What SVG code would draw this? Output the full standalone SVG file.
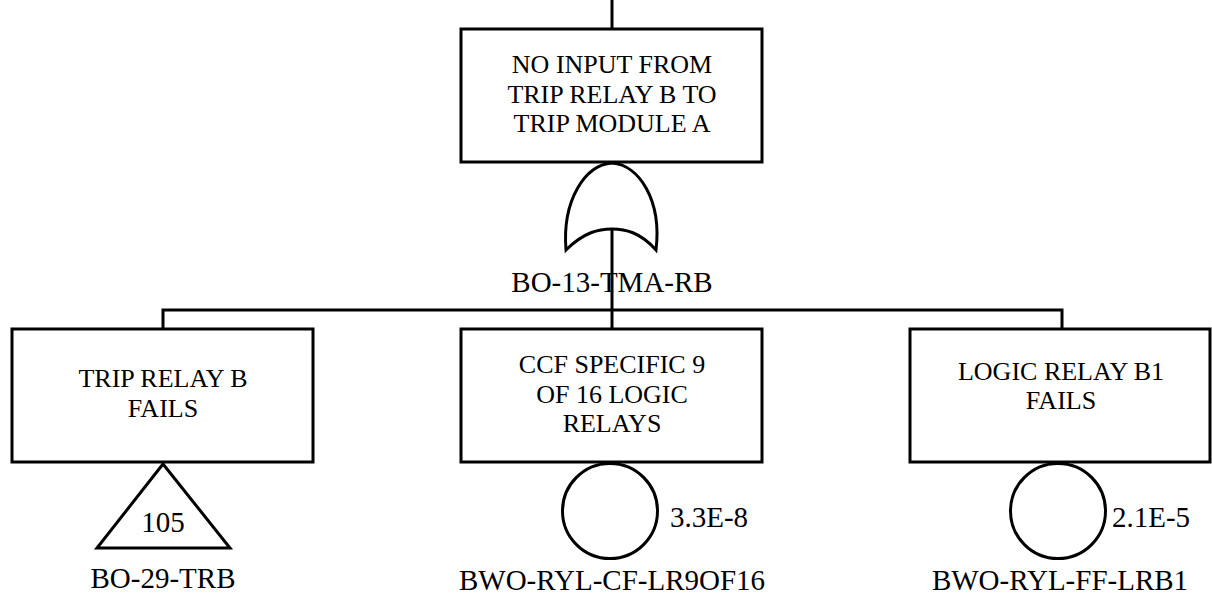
<svg xmlns="http://www.w3.org/2000/svg" width="1212" height="600" viewBox="0 0 1212 600">
<style>
.b{fill:#fff;stroke:#000;stroke-width:3}
.s{fill:none;stroke:#000;stroke-width:3}
text{font-family:'Liberation Serif','DejaVu Serif','Times New Roman',serif;fill:#000}
.t{font-size:26px;text-anchor:middle}
.l{font-size:29px;text-anchor:middle}
.p{font-size:29px;text-anchor:start}
</style>
<rect width="1212" height="600" fill="#fff"/>
<g id="connectors">
<path class="s" d="M612 0V29"/>
<path class="s" d="M612 229V310"/>
<path class="s" d="M163 329V310H1062V329"/>
<path class="s" d="M612 310V329"/>
</g>
<g id="top">
<rect class="b" x="461" y="29" width="301" height="133"/>
<text class="t" x="612" y="73" font-family="Liberation Serif">NO INPUT FROM</text>
<text class="t" x="612" y="103" font-family="Liberation Serif">TRIP RELAY B TO</text>
<text class="t" x="612" y="132" font-family="Liberation Serif">TRIP MODULE A</text>
</g>
<g id="gate">
<path class="s" d="M566 250C562 200 585 165 612 163C639 165 662 200 656 250C640 232 625 229 612 229C599 229 584 232 566 250Z"/>
<text class="l" x="612" y="292">BO-13-TMA-RB</text>
</g>
<g id="n1">
<rect class="b" x="12" y="329" width="301" height="133"/>
<text class="t" x="163" y="387">TRIP RELAY B</text>
<text class="t" x="163" y="417">FAILS</text>
<path class="s" d="M163 464L97 548H230Z"/>
<text class="l" x="163" y="532">105</text>
<text class="l" x="163" y="588">BO-29-TRB</text>
</g>
<g id="n2">
<rect class="b" x="461" y="329" width="301" height="133"/>
<text class="t" x="612" y="373">CCF SPECIFIC 9</text>
<text class="t" x="612" y="403">OF 16 LOGIC</text>
<text class="t" x="612" y="432">RELAYS</text>
<circle class="s" cx="610" cy="511" r="47.5"/>
<text class="p" x="670" y="527">3.3E-8</text>
<text class="l" x="612" y="590">BWO-RYL-CF-LR9OF16</text>
</g>
<g id="n3">
<rect class="b" x="910" y="329" width="300" height="133"/>
<text class="t" x="1061" y="380">LOGIC RELAY B1</text>
<text class="t" x="1061" y="409">FAILS</text>
<circle class="s" cx="1058" cy="511" r="47.5"/>
<text class="p" x="1112" y="527">2.1E-5</text>
<text class="l" x="1060" y="590">BWO-RYL-FF-LRB1</text>
</g>
</svg>
